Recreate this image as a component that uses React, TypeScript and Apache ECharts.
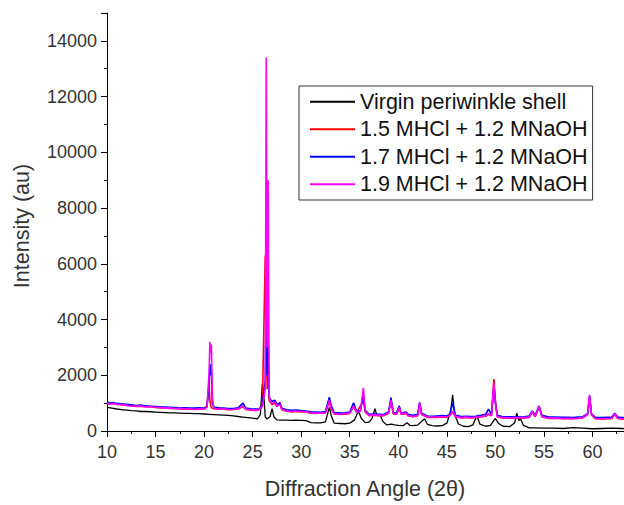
import React, { useEffect, useRef } from "react";
import * as echarts from "echarts";

// ---- Data ----
const blackAngles = [
  10.0, 10.5, 11.0, 11.5, 12.0, 12.5, 13.0, 13.5, 14.0, 14.5,
  15.0, 15.5, 16.0, 16.5, 17.0, 17.5, 18.0, 18.5, 19.0, 19.5,
  20.0, 20.5, 21.0, 21.5, 22.0, 22.5, 23.0, 23.5, 24.0, 24.5,
  25.0, 25.5, 25.8, 26.0, 26.15, 26.3, 26.5, 26.8, 27.0, 27.2,
  27.5, 28.0, 28.5, 29.0, 29.5, 30.0, 30.5, 31.0, 31.5, 32.0,
  32.5, 32.9, 33.1, 33.4, 34.0, 34.5, 35.0, 35.5, 35.9, 36.2,
  36.6, 37.0, 37.3, 37.6, 37.8, 38.1, 38.4, 38.8, 39.3, 39.6,
  40.0, 40.5, 40.9, 41.2, 41.5, 42.0, 42.7, 43.0, 43.5, 44.0,
  44.5, 45.0, 45.4, 45.6, 45.8, 46.2, 46.7, 47.2, 47.7, 48.1,
  48.4, 49.0, 49.5, 50.0, 50.3, 50.8, 51.5, 52.0, 52.2, 52.4,
  52.6, 52.9, 53.5, 54.0, 55.0, 56.0, 57.0, 58.0, 59.0, 60.0,
  61.0, 62.0, 63.0, 64.0,
];
const virginShell = [
  850, 820, 790, 770, 750, 730, 720, 700, 700, 690,
  680, 670, 660, 650, 650, 640, 630, 630, 620, 620,
  610, 600, 590, 580, 570, 560, 540, 520, 500, 480,
  460, 440, 600, 1700, 1300, 500, 430, 520, 800, 500,
  400, 390, 390, 380, 390, 380, 370, 300, 290, 290,
  330, 850, 550, 280, 270, 260, 280, 400, 720, 450,
  300, 320, 450, 800, 550, 600, 350, 220, 250, 220,
  200, 190, 300, 200, 190, 210, 440, 240, 190, 180,
  190, 280, 700, 1300, 600, 250, 170, 160, 220, 550,
  250, 170, 200, 450, 280, 170, 160, 300, 640, 380,
  430, 200, 110, 110, 100, 100, 90, 120, 100, 80,
  90, 100, 90, 80,
];

const treatedAngles = [
  10.0, 10.3, 10.6, 11.0, 11.5, 12.0, 12.5, 13.0, 13.5, 14.0,
  14.5, 15.0, 15.5, 16.0, 16.5, 17.0, 17.5, 18.0, 18.5, 19.0,
  19.5, 20.0, 20.3, 20.5, 20.6, 20.7, 20.75, 20.85, 21.0, 21.5,
  22.0, 22.5, 23.0, 23.5, 24.0, 24.3, 24.8, 25.3, 25.7, 26.0,
  26.3, 26.4, 26.5, 26.6, 26.7, 26.8, 27.0, 27.3, 27.5, 27.8,
  28.0, 28.5, 29.0, 29.5, 30.0, 30.5, 31.0, 31.5, 32.0, 32.5,
  32.9, 33.1, 33.4, 34.0, 34.5, 35.0, 35.4, 35.7, 36.1, 36.4,
  36.6, 37.0, 37.5, 38.0, 38.5, 39.0, 39.25, 39.5, 39.8, 40.1,
  40.3, 40.8, 41.0, 41.5, 42.0, 42.2, 42.4, 43.0, 43.5, 44.0,
  44.5, 45.0, 45.3, 45.6, 45.9, 46.5, 47.0, 47.5, 48.0, 48.5,
  49.0, 49.3, 49.6, 49.85, 50.0, 50.2, 50.7, 51.0, 51.5, 52.0,
  52.5, 53.0, 53.5, 53.8, 54.1, 54.5, 54.8, 55.5, 56.0, 57.0,
  57.5, 58.0, 58.5, 59.0, 59.5, 59.7, 59.9, 60.3, 61.0, 61.5,
  62.0, 62.3, 62.6, 63.0, 64.0,
];
const hcl15 = [
  1010, 980, 990, 960, 940, 930, 910, 880, 890, 870,
  860, 850, 830, 830, 810, 810, 800, 780, 790, 770,
  780, 800, 900, 1700, 1100, 900, 850, 820, 800, 790,
  780, 760, 770, 790, 880, 770, 750, 740, 770, 880,
  6300, 3000, 1500, 2500, 1100, 1050, 950, 1000, 880, 1020,
  760, 710, 690, 700, 690, 680, 640, 630, 650, 650,
  1070, 780, 610, 590, 600, 630, 880, 670, 900, 1070,
  680, 550, 570, 550, 550, 640, 1050, 610, 590, 820,
  590, 630, 550, 510, 550, 980, 590, 490, 490, 490,
  500, 490, 550, 680, 510, 470, 490, 470, 490, 500,
  530, 600, 550, 1860, 1100, 510, 470, 470, 460, 470,
  460, 470, 490, 690, 510, 860, 510, 450, 460, 440,
  450, 440, 450, 470, 590, 1200, 580, 440, 430, 440,
  450, 600, 450, 430, 440,
];
const hcl17 = [
  1040, 1000, 1020, 990, 980, 960, 940, 910, 930, 900,
  890, 880, 870, 860, 850, 840, 830, 830, 820, 820,
  830, 820, 880, 1600, 2400, 2000, 2200, 1000, 860, 830,
  820, 810, 810, 830, 1000, 820, 800, 790, 800, 950,
  1800, 4800, 2000, 3500, 1200, 1150, 1060, 1100, 960, 1000,
  820, 760, 740, 750, 730, 720, 690, 680, 670, 700,
  1210, 900, 660, 640, 650, 680, 1010, 720, 720, 1300,
  740, 600, 610, 600, 590, 680, 1200, 660, 640, 900,
  640, 680, 600, 560, 600, 1030, 640, 540, 530, 540,
  550, 540, 600, 1000, 560, 520, 530, 520, 530, 560,
  600, 780, 600, 1600, 1000, 560, 520, 510, 510, 510,
  500, 510, 540, 720, 560, 900, 560, 500, 500, 490,
  490, 480, 500, 510, 620, 1250, 620, 490, 480, 490,
  500, 640, 500, 480, 490,
];
const hcl19 = [
  1000, 960, 1000, 950, 960, 920, 900, 890, 900, 860,
  880, 840, 850, 820, 830, 800, 820, 790, 800, 780,
  800, 790, 850, 2000, 3200, 2800, 3100, 1200, 820, 780,
  800, 770, 780, 800, 900, 780, 760, 740, 780, 900,
  1500, 13400, 3000, 9000, 1300, 1100, 980, 1050, 900, 950,
  780, 720, 700, 720, 700, 690, 650, 640, 640, 660,
  1100, 800, 620, 600, 620, 640, 900, 680, 700, 1550,
  700, 560, 580, 560, 560, 650, 1100, 620, 600, 850,
  600, 650, 560, 520, 560, 1000, 600, 500, 500, 500,
  520, 500, 560, 700, 520, 480, 500, 480, 500, 520,
  540, 620, 560, 1720, 1000, 520, 480, 480, 470, 480,
  470, 480, 500, 700, 520, 880, 520, 460, 470, 450,
  460, 450, 460, 480, 600, 1300, 600, 450, 440, 450,
  460, 620, 460, 440, 450,
];

const seriesNames = [
  "Virgin periwinkle shell",
  "1.5 MHCl + 1.2 MNaOH",
  "1.7 MHCl + 1.2 MNaOH",
  "1.9 MHCl + 1.2 MNaOH",
];
const seriesColors = ["#000000", "#ff0000", "#0000ff", "#ff00ff"];

const xTitle = "Diffraction Angle (2θ)";
const yTitle = "Intensity (au)";

const FONT = "'Liberation Sans', Arial, sans-serif";

function pairs(xs: number[], ys: number[]) {
  return xs.map((x, i) => [x, ys[i]]);
}

export default function App() {
  const ref = useRef<HTMLDivElement>(null);
  useEffect(() => {
    if (!ref.current) return;
    const chart = echarts.init(ref.current, undefined, { renderer: "svg" });
    const datasets = [
      pairs(blackAngles, virginShell),
      pairs(treatedAngles, hcl15),
      pairs(treatedAngles, hcl17),
      pairs(treatedAngles, hcl19),
    ];
    const axisCommon = {
      axisLine: { show: true, lineStyle: { color: "#000", width: 1 } },
      axisTick: { show: true, inside: false, length: 6, lineStyle: { color: "#000", width: 1 } },
      minorTick: { show: true, splitNumber: 2, length: 3, lineStyle: { color: "#000", width: 1 } },
      splitLine: { show: false },
      minorSplitLine: { show: false },
    };
    chart.setOption({
      animation: false,
      backgroundColor: "#ffffff",
      grid: { left: 107, top: 13, right: 0, bottom: 70, containLabel: false },
      xAxis: {
        type: "value",
        min: 10,
        max: 65,
        interval: 5,
        ...axisCommon,
        axisLabel: {
          fontSize: 18,
          color: "#333",
          fontFamily: FONT,
          margin: 12,
          showMaxLabel: false,
          formatter: (v: number) => String(v),
        },
        name: xTitle,
        nameLocation: "middle",
        nameGap: 47,
        nameTextStyle: { fontSize: 21.5, color: "#333", fontFamily: FONT, padding: [0, 18, 0, 0] },
      },
      yAxis: {
        type: "value",
        min: 0,
        max: 15000,
        interval: 2000,
        ...axisCommon,
        axisLabel: {
          fontSize: 18,
          color: "#333",
          fontFamily: FONT,
          margin: 10,
          showMaxLabel: false,
          formatter: (v: number) => String(v),
        },
        name: yTitle,
        nameLocation: "middle",
        nameGap: 74,
        nameTextStyle: { fontSize: 21.5, color: "#333", fontFamily: FONT, padding: [0, 8, 0, 0] },
      },
      legend: {
        orient: "vertical",
        left: 299,
        top: 86,
        padding: [4, 5, 4, 11],
        borderColor: "#333",
        borderWidth: 1,
        backgroundColor: "#fff",
        icon: "rect",
        itemWidth: 45,
        itemHeight: 2,
        itemGap: 4,
        data: seriesNames,
        textStyle: { fontSize: 21.5, color: "#111", fontFamily: FONT, lineHeight: 23.5 },
      },
      series: seriesNames.map((name, i) => ({
        name,
        type: "line",
        data: datasets[i],
        showSymbol: false,
        symbol: "none",
        color: seriesColors[i],
        lineStyle: { color: seriesColors[i], width: i === 0 ? 1.3 : 1.6 },
        clip: true,
        z: 2 + i,
      })),
    });
    return () => chart.dispose();
  }, []);
  return (
    <div
      style={{
        position: "fixed",
        left: 0,
        top: 0,
        width: 624,
        height: 505,
        overflow: "hidden",
        background: "#fff",
      }}
    >
      <div ref={ref} style={{ width: 641, height: 505 }} />
    </div>
  );
}
